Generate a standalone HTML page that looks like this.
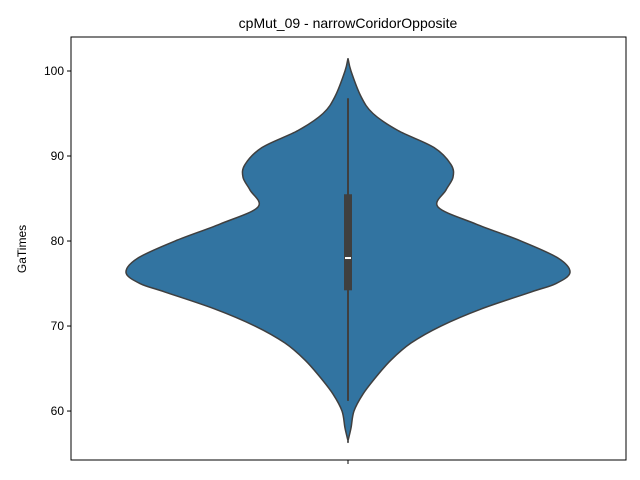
<!DOCTYPE html>
<html><head><meta charset="utf-8"><style>
body{margin:0;background:#fff}
svg{display:block;font-family:"Liberation Sans","DejaVu Sans",sans-serif}
</style></head><body>
<svg id="chart" width="640" height="480" viewBox="0 0 640 480">
<rect width="640" height="480" fill="#fff"/>
<text x="348" y="28" text-anchor="middle" font-size="14" fill="#000">cpMut_09 - narrowCoridorOpposite</text>
<text transform="translate(26,249) rotate(-90)" text-anchor="middle" font-size="12" fill="#000">GaTimes</text>
<g id="plot"></g>
</svg>
<script>
const densityY = [101.5,100,97,95,93,91,89,87.5,86,84,82,80,78,76.3,75,74,72,70,68,66,64,62,60,58,56.5];
const densityW = [0,3,13,25,50,86,103,105,98,90,128,173,210,222,208,183,133,93,63,43,28,15,6,3,0];
const yTicks = [60,70,80,90,100];
const boxQ1 = 74.2, boxQ3 = 85.5, boxMedian = 78, whiskerLow = 61.2, whiskerHigh = 96.8;
const categories = [""];

const L=71,R=626,T=37,B=460,cx=348;
const yMin=54.24,yMax=104;
const y=v=>B-(v-yMin)/(yMax-yMin)*(B-T);
const ns="http://www.w3.org/2000/svg";
const g=document.getElementById('plot');
function mk(tag,attrs){const e=document.createElementNS(ns,tag);for(const k in attrs)e.setAttribute(k,attrs[k]);g.appendChild(e);return e;}

// violin outline: right side down, left side up
const pts=[];
densityY.forEach((v,i)=>pts.push([cx+densityW[i],y(v)]));
for(let i=densityY.length-1;i>=0;i--)pts.push([cx-densityW[i],y(densityY[i])]);
function smooth(p){
  let d=`M${p[0][0]},${p[0][1]}`;
  for(let i=0;i<p.length-1;i++){
    const p0=p[i-1]||p[i],p1=p[i],p2=p[i+1],p3=p[i+2]||p2;
    const c1=[p1[0]+(p2[0]-p0[0])/6,p1[1]+(p2[1]-p0[1])/6];
    const c2=[p2[0]-(p3[0]-p1[0])/6,p2[1]-(p3[1]-p1[1])/6];
    d+=`C${c1[0]},${c1[1]} ${c2[0]},${c2[1]} ${p2[0]},${p2[1]}`;
  }
  return d+'Z';
}
const vio=mk('path',{d:smooth(pts),fill:'#3274a1',stroke:'#3f3f3f','stroke-width':1.5});



const wh=mk('line',{x1:cx,x2:cx,y1:y(whiskerLow),y2:y(whiskerHigh),stroke:'#3f3f3f','stroke-width':2});


const bx=mk('rect',{x:cx-4,width:8,y:y(boxQ3),height:y(boxQ1)-y(boxQ3),fill:'#3f3f3f'});


const md=mk('line',{x1:cx-3,x2:cx+3,y1:y(boxMedian),y2:y(boxMedian),stroke:'#fff','stroke-width':2});



const fr=mk('rect',{x:L,y:T,width:R-L,height:B-T,fill:'none',stroke:'#000','stroke-width':1});



yTicks.forEach(t=>{
  const ln=mk('line',{x1:L-4,x2:L,y1:y(t),y2:y(t),stroke:'#000'});
  
  
  const tx=mk('text',{x:L-7,y:y(t)+4,'text-anchor':'end','font-size':12,fill:'#000'});
  tx.textContent=t;
  
  
});
categories.forEach(c=>{
  const ln=mk('line',{x1:cx,x2:cx,y1:B,y2:B+4,stroke:'#000'});
  
  
});
</script>
</body></html>
